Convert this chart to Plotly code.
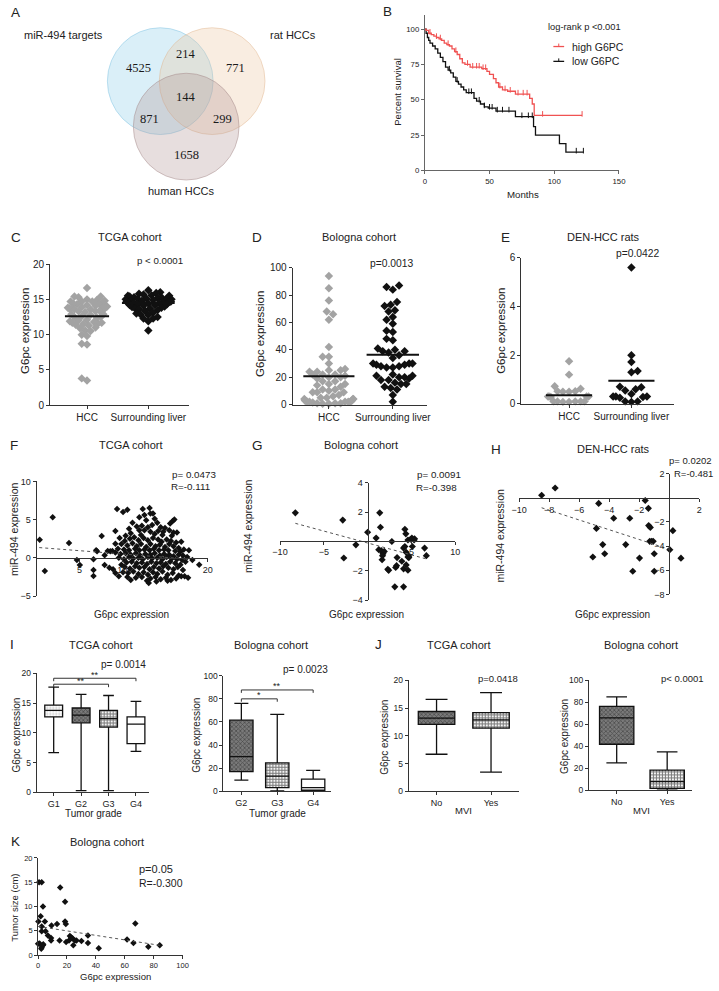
import numpy as np
import plotly.graph_objects as go

W, H = 719, 991
SANS = "Liberation Sans, Arial, Helvetica, sans-serif"
SERIF = "Liberation Serif, Times New Roman, serif"
INK = "#222222"
AXC = "#333333"

# ---------------- A: Venn ----------------
venn_sets = ["miR-494 targets", "rat HCCs", "human HCCs"]
venn_regions = ["miR only", "miR & rat", "rat only", "all", "miR & human", "rat & human", "human only"]
venn_counts = [4525, 214, 771, 144, 871, 299, 1658]

# ---------------- B: Kaplan-Meier ----------------
high_t = [0, 1, 3, 5, 7, 9, 11, 13, 15, 17, 19, 21, 23, 25, 27, 29, 31, 35, 44, 48,
          50, 53, 55, 57, 60, 64, 70, 81, 83, 84.5, 121.5]
high_s = [100, 99, 97, 96, 95, 94, 93, 92, 90, 89, 88, 86, 84, 82, 79, 76, 75, 73, 72, 70,
          68, 65, 62, 59, 57, 56, 54, 51, 47, 39, 39]
low_t = [0, 1, 2, 3, 4, 6, 8, 10, 12, 14, 16, 18, 20, 22, 24, 26, 28, 30, 32, 38,
         40, 43, 46, 49, 55, 70, 84, 85.5, 104, 109, 122.5]
low_s = [100, 97, 94, 92, 90, 88, 86, 83, 80, 77, 73, 71, 69, 66, 63, 61, 59, 57, 55, 51,
         49, 47, 45, 44, 42, 38, 31, 25, 19, 13, 13]
high_cens = [4, 9, 12, 18, 24, 33, 37, 40, 42, 45, 47, 58, 62, 66, 72, 76, 79, 91, 121.5]
low_cens = [19, 25, 34, 36, 42, 46, 50, 52, 56, 60, 65, 75, 80, 83, 117, 122.5]

# ---------------- C/D/E: dot plots ----------------
group_labels = ["HCC", "Surrounding liver"]
c_hcc = [16.6, 15.4, 15.3, 15.4, 15.0, 14.9, 14.7, 14.8, 14.7, 14.6, 14.7, 14.3, 14.3, 14.2, 14.4,
         14.0, 14.0, 13.9, 14.1, 13.7, 13.7, 13.6, 13.8, 13.7, 13.6, 13.7, 13.3, 13.3, 13.2, 13.4,
         12.9, 12.9, 12.8, 12.5, 12.4, 12.6, 12.5, 12.0, 12.1, 11.9, 11.7, 11.6, 11.7, 11.8, 11.4,
         11.3, 11.5, 11.0, 10.9, 10.6, 10.5, 10.0, 9.8, 8.7, 8.6, 3.5, 3.8]
c_surr = [16.3, 16.0, 15.9, 15.8, 15.7, 15.6, 15.5, 15.5, 15.4, 15.3, 15.3, 15.2, 15.2,
          15.1, 15.1, 15.0, 15.0, 14.9, 14.9, 14.8, 14.8, 14.7, 14.7, 14.6, 14.7,
          14.6, 14.5, 14.5, 14.4, 14.5, 14.3, 14.3, 14.2, 14.2, 14.1, 14.0,
          13.9, 13.8, 13.7, 13.7, 13.6, 13.5, 13.4, 13.1, 13.0, 12.9, 12.8, 12.5,
          12.3, 12.3, 11.9, 10.6]
c_centre = [12.6, 14.5]
d_hcc = [94, 85, 76, 68, 66, 62, 42, 35, 35, 30, 26, 25, 25, 24, 24, 22, 22, 22, 21, 20, 20, 19,
         17, 17, 15, 15, 14, 13, 11, 11, 10, 9, 9, 9, 7, 6, 5, 5, 4, 4, 4, 3, 3, 2.5, 2, 2, 2, 2,
         2, 1.5, 1, 1, 1, 0.5, 0.5]
d_surr = [87, 86, 84, 75, 73, 72, 69, 68, 64, 62, 59, 54, 53, 48, 47, 41, 40, 39, 39, 38, 36, 34,
          30, 30, 30, 29, 29, 28, 28, 27, 27, 22, 21, 21, 20, 20, 19, 18, 18, 16, 15, 15, 13, 12,
          11, 7, 2]
d_centre = [20.7, 36.3]
e_hcc = [1.75, 1.2, 0.72, 0.62, 0.52, 0.5, 0.5, 0.52, 0.3, 0.3, 0.28, 0.3, 0.3, 0.1, 0.1, 0.08,
         0.1, 0.1, 0.1, 0.08]
e_surr = [5.6, 2.0, 1.72, 1.35, 1.3, 0.7, 0.68, 0.6, 0.55, 0.4, 0.3, 0.3, 0.28, 0.25, 0.3, 0.1,
          0.08, 0.1]
e_centre = [0.35, 0.95]

# ---------------- F/G/H: correlations ----------------
f_points = [(0.35, 2.37), (0.95, -1.72), (1.87, 5.3), (3.78, 1.94), (4.7, -0.3), (5.04, -0.95),
            (6.64, -0.17), (6.64, -1.6), (6.64, -2.37), (6.95, 1.0), (7.06, 0.86), (7.6, 2.84),
            (7.94, -0.95), (7.94, 0.35), (8.3, 0.9), (8.6, 0.85), (8.85, 0.9), (8.93, -1.5), (9.2, 1.85),
            (9.4, 6.4), (10.1, 6.0), (10.6, 6.3), (12.4, 6.4), (13.2, 6.5), (12.6, 5.6), (13.3, 5.8),
            (13.6, 5.8), (12.0, 5.3), (11.2, 4.6), (12.8, 4.9), (13.8, 5.1), (14.1, 4.6), (15.6, 4.5),
            (15.9, 4.8), (16.1, 5.0), (11.7, 4.1), (12.3, 4.2), (13.0, 4.0), (13.5, 4.3), (14.5, 4.0),
            (15.0, 3.9), (10.8, 3.8), (12.0, 3.6), (12.6, 3.6), (13.3, 3.4), (14.2, 3.5), (14.8, 3.4),
            (15.5, 3.6), (16.4, 3.3), (11.0, 3.2), (12.2, 3.0), (13.8, 3.1), (9.2, 3.5), (10.4, 2.9),
            (14.7, 3.0), (15.8, 2.9), (16.0, 3.3),
            (9.7, 2.6), (10.3, 2.2), (10.9, 2.5), (11.4, 2.7), (11.9, 2.3), (12.5, 2.6), (13.0, 2.3),
            (13.6, 2.6), (14.2, 2.4), (14.6, 2.1), (15.2, 2.4), (15.7, 2.2), (16.3, 2.0), (16.9, 2.1),
            (9.9, 1.8), (10.6, 1.6), (11.2, 1.9), (11.7, 1.5), (12.2, 1.8), (12.8, 1.4), (13.3, 1.8),
            (13.9, 1.5), (14.4, 1.7), (15.0, 1.4), (15.5, 1.8), (16.0, 1.5), (16.6, 1.3), (17.2, 1.1),
            (17.8, 1.0), (9.5, 1.2), (10.2, 1.1), (10.8, 1.0), (11.5, 1.2), (12.0, 1.0), (12.6, 1.1),
            (13.2, 1.0), (13.7, 1.2), (14.3, 1.0), (14.9, 1.1), (15.4, 1.0), (16.2, 0.9), (16.8, 0.8),
            (9.2, 0.7), (9.8, 0.5), (10.4, 0.6), (11.0, 0.4), (11.6, 0.6), (12.1, 0.3), (12.7, 0.5),
            (13.3, 0.4), (13.8, 0.6), (14.4, 0.3), (14.9, 0.5), (15.5, 0.4), (16.0, 0.2), (16.6, 0.4),
            (17.1, 0.3), (17.6, 0.1), (18.2, -0.3), (19.0, -0.9), (9.6, 0.0), (10.2, -0.2), (10.8, 0.1),
            (11.3, -0.1), (11.9, 0.0), (12.4, -0.2), (13.0, 0.1), (13.5, -0.1), (14.1, 0.0), (14.7, -0.2),
            (15.2, 0.1), (15.8, -0.1), (16.4, -0.2), (17.0, -0.3), (17.4, -0.5), (10.5, -0.6),
            (11.1, -0.5), (11.7, -0.7), (12.3, -0.6), (12.9, -0.8), (13.4, -0.5), (14.0, -0.7),
            (14.5, -0.6), (15.1, -0.8), (15.6, -0.5), (16.2, -0.7), (16.8, -0.9), (9.9, -0.9),
            (10.3, -1.2), (10.9, -1.4), (11.5, -1.1), (12.0, -1.3), (12.6, -1.2), (13.2, -1.5),
            (13.7, -1.2), (14.3, -1.4), (14.8, -1.1), (15.4, -1.3), (16.0, -1.5), (16.5, -1.2),
            (17.1, -1.6), (10.1, -1.9), (10.7, -2.0), (11.3, -1.8), (11.9, -2.1), (12.5, -1.9),
            (13.0, -2.2), (13.6, -1.9), (14.1, -2.1), (14.7, -1.8), (15.3, -2.2), (15.9, -2.0),
            (16.6, -2.3), (17.3, -2.4), (17.7, -2.6), (9.6, -2.4), (10.6, -2.5), (11.6, -2.6),
            (12.3, -2.5), (13.3, -2.7), (13.9, -2.5), (14.5, -2.8), (15.1, -2.6), (15.7, -2.9),
            (16.3, -2.7), (12.9, -3.0), (13.1, -3.3), (14.0, -3.1), (15.3, -3.0), (11.0, -2.9),
            (16.9, -2.4), (8.5, -1.3), (9.2, -2.0)]
f_fit_x = [0.3, 17.8]
f_fit_y = [1.34, -0.17]

g_points = [(-8.25, 1.96), (-2.84, 1.46), (-2.72, -1.13), (-1.34, -0.23), (0.0, 0.63), (0.97, 0.23),
            (1.38, 1.96), (1.46, 0.97), (1.27, -0.56), (1.55, -0.63), (1.75, -0.83), (1.9, -0.68),
            (1.65, -1.24), (1.7, -0.97), (2.3, -1.9), (2.4, -1.97), (2.76, 0.0), (3.36, -1.1),
            (3.3, -1.65), (3.2, -1.77), (3.1, -3.1), (3.9, -1.35), (4.1, -0.45), (4.25, -0.34),
            (4.25, 0.83), (4.36, 0.52), (4.1, -1.87), (4.1, -3.1), (4.4, -1.6), (4.6, -1.96),
            (4.6, 0.1), (4.7, -1.0), (4.7, -1.1), (4.9, 0.15), (5.05, 0.23), (5.35, 0.18), (5.3, 0.1),
            (5.1, -0.34), (6.5, -0.45), (6.7, -0.97), (4.4, -0.74), (4.6, -1.06)]
g_fit_x = [-8.25, 6.68]
g_fit_y = [1.24, -1.19]

h_points = [(-8.5, 0.22), (-7.6, 0.82), (-4.7, -0.46), (-3.7, -1.69), (-4.85, -2.53), (-4.43, -3.87),
            (-5.09, -4.9), (-4.3, -4.63), (-2.63, -1.69), (-2.9, -3.87), (-1.98, -4.99), (-2.43, -6.08),
            (-1.6, -0.22), (-1.39, -0.87), (-1.37, -2.3), (-1.26, -2.45), (-1.3, -3.6), (-1.17, -3.6),
            (-1.07, -3.6), (-1.0, -4.63), (-1.0, -6.08), (0.04, -4.3), (0.24, -2.72), (0.78, -5.0)]
h_fit_x = [-8.5, 0.1]
h_fit_y = [-0.82, -4.3]

# ---------------- I/J: box plots ----------------
i_tcga_cats = ["G1", "G2", "G3", "G4"]
i_tcga_low = [6.7, 0.3, 0.3, 6.9]
i_tcga_q1 = [12.7, 11.7, 11.0, 8.2]
i_tcga_med = [13.8, 13.0, 12.4, 11.5]
i_tcga_q3 = [14.7, 14.2, 13.8, 12.7]
i_tcga_high = [17.7, 16.5, 16.3, 15.3]

i_bol_cats = ["G2", "G3", "G4"]
i_bol_low = [9.5, 0.3, 0.3]
i_bol_q1 = [17, 3, 0.8]
i_bol_med = [30, 13, 3]
i_bol_q3 = [61.5, 24.5, 10.5]
i_bol_high = [76, 66.5, 18]

j_cats = ["No", "Yes"]
j_tcga_low = [6.7, 3.5]
j_tcga_q1 = [12.1, 11.4]
j_tcga_med = [13.2, 12.9]
j_tcga_q3 = [14.4, 14.2]
j_tcga_high = [16.6, 17.8]

j_bol_low = [25, 0.3]
j_bol_q1 = [42, 2]
j_bol_med = [66, 8]
j_bol_q3 = [76.5, 18.5]
j_bol_high = [85, 35]

# ---------------- K ----------------
k_points = [(0.7, 15), (2.5, 15), (0.2, 6.9), (0, 2.3), (1.1, 2.4), (1.8, 8.0), (2.5, 4.9), (2.5, 5.9),
            (3.4, 10.0), (2.2, 1.3), (2.5, 1.6), (3.4, 2.0), (3.6, 2.2), (4.7, 6.9), (5.2, 4.9),
            (6.8, 4.0), (9.3, 6.1), (9.0, 3.5), (9.0, 3.0), (13.1, 6.4), (15.3, 13.9), (14.9, 3.0),
            (18.7, 6.9), (19.2, 6.4), (18.7, 11.0), (19.4, 2.7), (21.4, 3.0), (22.0, 3.9), (23.0, 3.6),
            (24.0, 3.4), (24.4, 2.0), (25.5, 3.0), (26.6, 3.0), (30.0, 2.9), (34.5, 4.0), (34.5, 2.5),
            (42.0, 1.4), (61.6, 3.2), (67.3, 6.5), (66.0, 2.5), (76.3, 1.7), (84.2, 2.0)]
k_fit_x = [0, 84.2]
k_fit_y = [5.9, 2.0]

# =====================================================================
def fx(px):
    return px / W


def fy(py):
    return 1 - py / H


layout = dict(width=W, height=H, margin=dict(l=0, r=0, t=0, b=0), paper_bgcolor="white",
              plot_bgcolor="rgba(0,0,0,0)", showlegend=False, barmode="overlay", boxmode="overlay",
              font=dict(family=SANS, color=INK), hovermode=False)
annotations = []
shapes = []
traces = []


def axname(n):
    return ("x" if n == 1 else f"x{n}"), ("y" if n == 1 else f"y{n}")


def add_axes(n, xpx, ypx, xr, yr, xkw=None, ykw=None, tsize=9):
    common = dict(showgrid=False, zeroline=False, showline=True, linecolor=AXC, linewidth=1,
                  ticks="outside", ticklen=3, tickwidth=1, tickcolor=AXC, fixedrange=True,
                  tickfont=dict(family=SANS, size=tsize, color=INK), layer="above traces")
    xn, yn = axname(n)
    xa = dict(common, domain=[fx(xpx[0]), fx(xpx[1])], range=xr, anchor=yn)
    ya = dict(common, domain=[fy(ypx[0]), fy(ypx[1])], range=yr, anchor=xn)
    xa["tickfont"] = dict(common["tickfont"])
    ya["tickfont"] = dict(common["tickfont"])
    if xkw:
        xa.update(xkw)
    if ykw:
        ya.update(ykw)
    layout["xaxis" if n == 1 else f"xaxis{n}"] = xa
    layout["yaxis" if n == 1 else f"yaxis{n}"] = ya


def txt(x, y, s, size, anchor="center", angle=0, family=SANS, color=INK):
    annotations.append(dict(x=fx(x), y=fy(y), xref="paper", yref="paper", text=s, showarrow=False,
                            font=dict(family=family, size=size, color=color), xanchor=anchor,
                            yanchor="middle", textangle=angle, borderpad=0))


def swarm(vals, ppu_y, dmin, maxw):
    """Deterministic beeswarm offsets (pixels), softly limited to +-maxw."""
    v = np.asarray(vals, float)
    order = np.argsort(v, kind="stable")
    placed = []
    offs = np.zeros(len(v))
    step = dmin / 3.0
    for k, i in enumerate(order):
        y = v[i] * ppu_y
        sgn = 1 if k % 2 == 0 else -1
        done = False
        for m in range(400):
            cands = [0.0] if m == 0 else [sgn * m * step, -sgn * m * step]
            for c in cands:
                if all((c - px) ** 2 + (y - py) ** 2 >= dmin ** 2 for px, py in placed):
                    offs[i] = c
                    done = True
                    break
            if done:
                break
        placed.append((offs[i], y))
    return maxw * np.tanh(offs / maxw)


# ---------------- A: Venn ----------------
R = 54
venn_circles = [(155.5, 77, "rgba(150,210,235,0.35)", "rgba(120,190,225,0.45)"),
                (208.5, 77, "rgba(235,195,155,0.30)", "rgba(225,180,140,0.45)"),
                (182, 123, "rgba(175,145,145,0.30)", "rgba(160,130,130,0.45)")]
for cx, cy, fc, lc in venn_circles:
    shapes.append(dict(type="circle", xref="paper", yref="paper", x0=fx(cx - R), x1=fx(cx + R),
                       y0=fy(cy + R), y1=fy(cy - R), fillcolor=fc, line=dict(color=lc, width=1),
                       layer="below"))
venn_pos = [(133, 64), (182, 50), (232, 64), (182, 93), (145, 115), (219, 115), (182, 152)]
for (x, y), cnt in zip(venn_pos, venn_counts):
    txt(x, y, str(cnt), 12.5, family=SERIF, color="#1a1a1a")
for (x, y), lab in zip([(57, 30), (291, 30), (177, 188)], venn_sets):
    txt(x, y, lab, 11)

# ---------------- B: survival ----------------
add_axes(1, (425.7, 624), (167.3, 10), [0, 150], [0, 110],
         xkw=dict(tickvals=[0, 50, 100, 150], linecolor="#666", tickcolor="#666"),
         ykw=dict(tickvals=[0, 25, 50, 75, 100], linecolor="#666", tickcolor="#666"), tsize=7.8)
RED = "#f05252"


def step_at(ts, ss, t):
    idx = np.searchsorted(np.asarray(ts), t, side="right") - 1
    return np.asarray(ss)[idx]


for ts, ss, cens, col in [(low_t, low_s, low_cens, "#111111"), (high_t, high_s, high_cens, RED)]:
    traces.append(go.Scatter(x=ts, y=ss, mode="lines", line=dict(color=col, width=1.3, shape="hv"),
                             xaxis="x", yaxis="y", hoverinfo="skip"))
    traces.append(go.Scatter(x=cens, y=[step_at(ts, ss, c) + 1.0 for c in cens], mode="markers",
                             marker=dict(symbol="line-ns", size=4, line=dict(color=col, width=1)),
                             xaxis="x", yaxis="y", hoverinfo="skip"))
txt(550, 22, "log-rank p <0.001", 9.3, anchor="left")
for yy, col, lab in [(42, RED, "high G6PC"), (57, "#111111", "low G6PC")]:
    shapes.append(dict(type="line", xref="paper", yref="paper", x0=fx(557), x1=fx(568), y0=fy(yy),
                       y1=fy(yy), line=dict(color=col, width=1.3)))
    shapes.append(dict(type="line", xref="paper", yref="paper", x0=fx(562.5), x1=fx(562.5),
                       y0=fy(yy), y1=fy(yy - 3), line=dict(color=col, width=1)))
    txt(575, yy, lab, 10.5, anchor="left")
txt(397, 88, "Percent survival", 9.5, angle=-90)
txt(526, 192, "Months", 9.7)

# ---------------- C/D/E ----------------
GREY = "#a3a3a3"
BLK = "#111111"


def dot_panel(n, xpx, ypx, xr, yr, ydtick, grp1, grp2, centres, dmins, maxws, halfw, tsize):
    add_axes(n, xpx, ypx, xr, yr,
             xkw=dict(tickvals=[0, 1], ticktext=group_labels, tickfont=dict(family=SANS, size=10, color=INK)),
             ykw=dict(dtick=ydtick, tick0=0), tsize=tsize)
    ppu_x = (xpx[1] - xpx[0]) / (xr[1] - xr[0])
    ppu_y = (ypx[0] - ypx[1]) / (yr[1] - yr[0])
    xn, yn = axname(n)
    for gi, (vals, col) in enumerate([(grp1, GREY), (grp2, BLK)]):
        offs = swarm(vals, ppu_y, dmins[gi], maxws[gi])
        traces.append(go.Scatter(x=gi + offs / ppu_x, y=vals, mode="markers",
                                 marker=dict(symbol="diamond", size=6.5, color=col, line=dict(width=0)),
                                 xaxis=xn, yaxis=yn, hoverinfo="skip", cliponaxis=False))
        traces.append(go.Scatter(x=[gi - halfw[gi], gi + halfw[gi]], y=[centres[gi]] * 2, mode="lines",
                                 line=dict(color=BLK, width=2), xaxis=xn, yaxis=yn, hoverinfo="skip"))


dot_panel(2, (43, 185), (404.7, 262), [-0.602, 1.666], [0, 20], 5, c_hcc, c_surr, c_centre,
          (5.5, 5.0), (22, 25), (0.36, 0.43), 10)
dot_panel(3, (290.7, 428), (404, 265.7), [-0.567, 1.536], [0, 100], 20, d_hcc, d_surr, d_centre,
          (6.5, 6.5), (26, 27), (0.4, 0.41), 10)
dot_panel(4, (524.3, 680), (403.3, 255.7), [-0.765, 1.68], [0, 6], 2, e_hcc, e_surr, e_centre,
          (6.5, 6.5), (23, 23), (0.37, 0.37), 10)
txt(155, 258, "p < 0.0001", 9.7)
txt(392, 261, "p=0.0013", 10.3)
txt(643, 251, "p=0.0422", 10.3)
txt(18, 330, "G6pc expression", 11.5, angle=-90)
txt(258, 333, "G6pc expression", 11.5, angle=-90)
txt(504, 329, "G6pc expression", 11.5, angle=-90)

# ---------------- F/G/H ----------------


def corr_traces(n, pts, fitx, fity, msize=5.5):
    xn, yn = axname(n)
    traces.append(go.Scatter(x=[p[0] for p in pts], y=[p[1] for p in pts], mode="markers",
                             marker=dict(symbol="diamond", size=msize, color=BLK, line=dict(width=0)),
                             xaxis=xn, yaxis=yn, hoverinfo="skip", cliponaxis=False))
    traces.append(go.Scatter(x=fitx, y=fity, mode="lines", line=dict(color="#555", width=1, dash="dot"),
                             xaxis=xn, yaxis=yn, hoverinfo="skip"))


add_axes(5, (29.3, 204), (597.7, 481.7), [0, 20], [-5, 10],
         xkw=dict(anchor="free", position=fy(559.3), tickvals=[5, 10, 20]),
         ykw=dict(tickvals=[-5, 0, 5, 10]), tsize=9)
corr_traces(5, f_points, f_fit_x, f_fit_y, msize=5)
add_axes(6, (277.8, 456.8), (601.7, 483.3), [-10, 10], [-4, 4],
         xkw=dict(anchor="free", position=fy(541.7), tickvals=[-10, -5, 5, 10]),
         ykw=dict(anchor="free", position=fx(367.3), tickvals=[-4, -2, 2, 4]), tsize=9)
corr_traces(6, g_points, g_fit_x, g_fit_y)
add_axes(7, (522, 706), (596, 474), [-10, 2], [-8, 2],
         xkw=dict(anchor="free", position=fy(498.3), tickvals=[-10, -8, -6, -4, -2, 2]),
         ykw=dict(anchor="free", position=fx(675.3), tickvals=[-8, -6, -4, -2, 2]), tsize=9)
corr_traces(7, h_points, h_fit_x, h_fit_y)

txt(166, 475, "p= 0.0473", 9.8, anchor="left")
txt(165, 487, "R=-0.111", 9.8, anchor="left")
txt(417, 475, "p= 0.0091", 9.8, anchor="left")
txt(416, 488, "R=-0.398", 9.8, anchor="left")
txt(674, 461, "p= 0.0202", 9.5, anchor="left")
txt(679, 474, "R=-0.481", 9.5, anchor="left")
txt(6, 530, "miR-494 expression", 10.5, angle=-90)
txt(126, 616, "G6pc expression", 10)
txt(245, 527, "miR-494 expression", 10.5, angle=-90)
txt(366, 616, "G6pc expression", 10)
txt(503, 537, "miR-494 expression", 10.5, angle=-90)
txt(617, 616, "G6pc expression", 10)

# ---------------- I/J box plots ----------------
PAT = {
    "light": dict(shape=".", fgcolor="#8a8a8a", bgcolor="white", size=3, solidity=0.3),
    "hatch": dict(shape="x", fgcolor="#1e1e1e", bgcolor="#7a7a7a", size=3, solidity=0.45),
    "check": dict(shape="+", fgcolor="#000000", bgcolor="#f4f4f4", size=3, solidity=0.55),
    "white": dict(shape="", bgcolor="white"),
}


def box_panel(n, cats, low, q1, med, q3, high, pats, width):
    xn, yn = axname(n)
    for i in range(len(cats)):
        traces.append(go.Bar(x=[i], y=[q3[i] - q1[i]], base=[q1[i]], width=width,
                             marker=dict(color="white", pattern=PAT[pats[i]], line=dict(width=0)),
                             xaxis=xn, yaxis=yn, hoverinfo="skip"))
        traces.append(go.Box(x=[i], q1=[q1[i]], median=[med[i]], q3=[q3[i]], lowerfence=[low[i]],
                             upperfence=[high[i]], width=width, whiskerwidth=0.6, boxpoints=False,
                             fillcolor="rgba(0,0,0,0)", line=dict(color=BLK, width=1.3),
                             xaxis=xn, yaxis=yn, hoverinfo="skip"))


catfont = dict(family=SANS, size=9, color=INK)
add_axes(8, (29.3, 144), (796.3, 676), [-0.62, 3.475], [0, 20],
         xkw=dict(tickvals=[0, 1, 2, 3], ticktext=i_tcga_cats, tickfont=catfont),
         ykw=dict(dtick=5, tick0=0), tsize=8.5)
box_panel(8, i_tcga_cats, i_tcga_low, i_tcga_q1, i_tcga_med, i_tcga_q3, i_tcga_high,
          ["light", "hatch", "check", "white"], 0.65)
add_axes(9, (220, 330), (795, 678.3), [-0.5, 2.5], [0, 100],
         xkw=dict(tickvals=[0, 1, 2], ticktext=i_bol_cats, tickfont=catfont),
         ykw=dict(dtick=20, tick0=0), tsize=8.5)
box_panel(9, i_bol_cats, i_bol_low, i_bol_q1, i_bol_med, i_bol_q3, i_bol_high,
          ["hatch", "check", "white"], 0.65)
add_axes(10, (409.3, 521.7), (795.3, 683), [-0.51, 1.51], [0, 20],
         xkw=dict(tickvals=[0, 1], ticktext=j_cats, tickfont=catfont),
         ykw=dict(dtick=5, tick0=0), tsize=8.5)
box_panel(10, j_cats, j_tcga_low, j_tcga_q1, j_tcga_med, j_tcga_q3, j_tcga_high, ["hatch", "check"], 0.67)
add_axes(11, (593.3, 699), (794.3, 683), [-0.55, 1.5], [0, 100],
         xkw=dict(tickvals=[0, 1], ticktext=j_cats, tickfont=catfont),
         ykw=dict(dtick=20, tick0=0), tsize=8.5)
box_panel(11, j_cats, j_bol_low, j_bol_q1, j_bol_med, j_bol_q3, j_bol_high, ["hatch", "check"], 0.68)


def bracket(n, xa, xb, y, drop, label, ly):
    xn, yn = axname(n)
    shapes.append(dict(type="path", xref=xn, yref=yn,
                       path=f"M {xa},{y - drop} L {xa},{y} L {xb},{y} L {xb},{y - drop}",
                       line=dict(color=AXC, width=1)))
    annotations.append(dict(x=(xa + xb) / 2, y=ly, xref=xn, yref=yn, text=label, showarrow=False,
                            font=dict(family=SANS, size=9, color=INK), yanchor="middle"))


bracket(8, 0, 2, 18.2, 0.5, "**", 18.8)
bracket(8, 0, 3, 19.2, 0.5, "**", 19.8)
bracket(9, 0, 1, 80, 2.5, "*", 83.5)
bracket(9, 0, 2, 87.7, 2.5, "**", 91.5)

txt(118, 667, "p= 0.0014", 10)
txt(304, 672, "p= 0.0023", 10)
txt(500, 681, "p=0.0418", 9.5)
txt(689, 681, "p< 0.0001", 9.5)
txt(9, 738, "G6pc expression", 10, angle=-90)
txt(193, 738, "G6pc expression", 10, angle=-90)
txt(385, 740, "G6pc expression", 10, angle=-90)
txt(569, 740, "G6pc expression", 10, angle=-90)
txt(87, 818, "Tumor grade", 10)
txt(275, 818, "Tumor grade", 10)
txt(465, 815, "MVI", 9.5)
txt(647, 815, "MVI", 9.5)

# ---------------- K ----------------
add_axes(12, (30.7, 178.3), (960.7, 862.5), [0, 100], [0, 20],
         xkw=dict(dtick=20, tick0=0), ykw=dict(dtick=5, tick0=0), tsize=7.5)
corr_traces(12, k_points, k_fit_x, k_fit_y, msize=5)
txt(133, 874, "p=0.05", 11, anchor="left")
txt(133, 888, "R=-0.300", 10.5, anchor="left")
txt(7, 913, "Tumor size (cm)", 9.5, angle=-90)
txt(110, 982, "G6pc expression", 9.5)

# ---------------- titles & letters ----------------
for s, x, y in [("TCGA cohort", 124.5, 235), ("Bologna cohort", 358, 235), ("DEN-HCC rats", 608, 235),
                ("TCGA cohort", 125.5, 445), ("Bologna cohort", 360.5, 445), ("DEN-HCC rats", 618, 449),
                ("TCGA cohort", 95, 647), ("Bologna cohort", 269, 647), ("TCGA cohort", 461, 647),
                ("Bologna cohort", 646, 647), ("Bologna cohort", 101, 846)]:
    txt(x, y, s, 11)
for s, x, y in [("A", 8, 8), ("B", 388, 7), ("C", 8, 235), ("D", 254, 235), ("E", 508, 235),
                ("F", 6, 445), ("G", 255, 445), ("H", 498, 449), ("I", 4, 647), ("J", 378, 647),
                ("K", 8, 846)]:
    txt(x, y, s, 13.5)

layout["annotations"] = annotations
layout["shapes"] = shapes
fig = go.Figure(data=traces, layout=layout)
fig.write_html("out.html", config={"displayModeBar": False, "staticPlot": True},
               post_script="document.body.style.margin='0';document.body.style.padding='0';"
                           "document.body.style.overflow='hidden';")
